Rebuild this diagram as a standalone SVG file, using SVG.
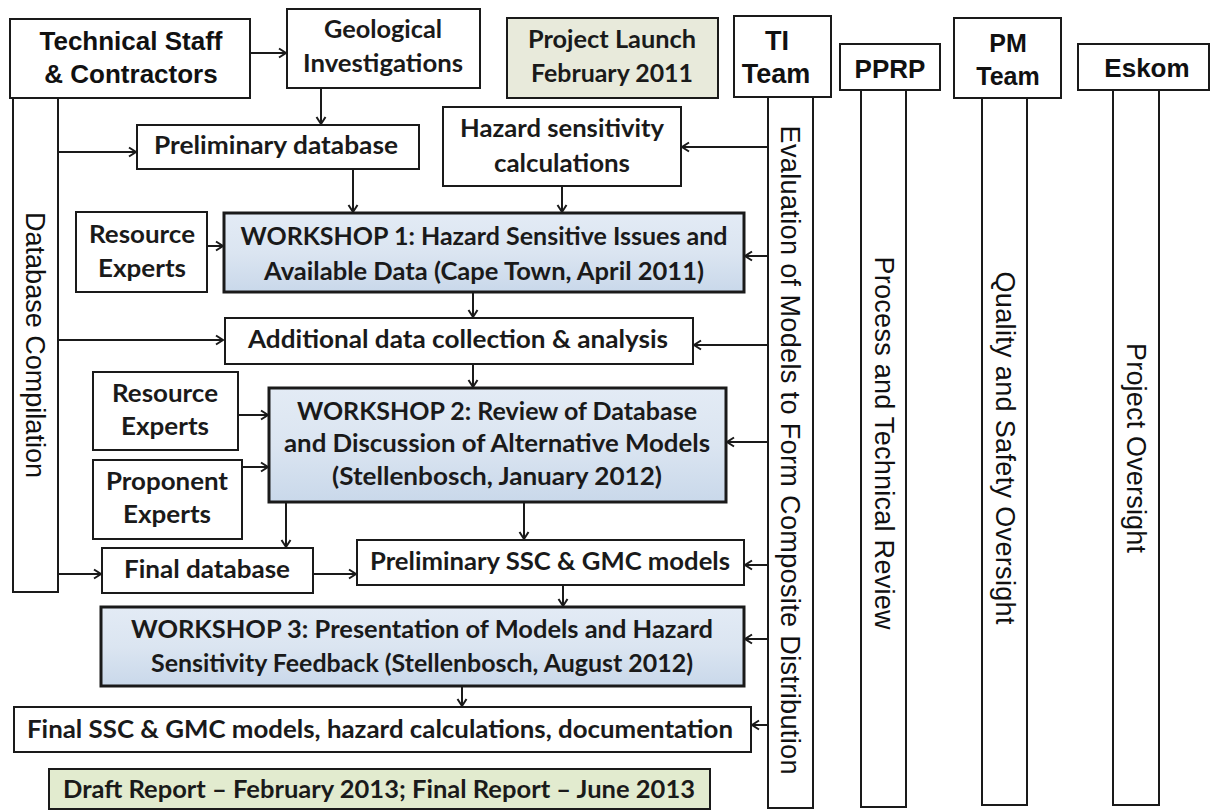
<svg xmlns="http://www.w3.org/2000/svg" width="1211" height="810" viewBox="0 0 1211 810">
<defs>
<linearGradient id="ws" x1="0" y1="0" x2="0" y2="1">
<stop offset="0" stop-color="#e3ebf5"/>
<stop offset="0.5" stop-color="#dbe5f1"/>
<stop offset="1" stop-color="#c9d8ea"/>
</linearGradient>
<marker id="ah" markerWidth="12" markerHeight="12" refX="9" refY="6" orient="auto" markerUnits="userSpaceOnUse">
<path d="M2,1.5 L9,6 L2,10.5" fill="none" stroke="#1a1a1a" stroke-width="2"/>
</marker>
</defs>
<style>
rect{fill:#ffffff;stroke:#1a1a1a;stroke-width:2}
rect.ws{fill:url(#ws);stroke-width:3}
rect.launch{fill:#e8eadb}
rect.report{fill:#e2ebcf}
.c{font-family:Lato,"Open Sans",sans-serif;font-weight:700;font-size:24.5px;fill:#1a1a1a;text-anchor:middle}
.a{font-family:"Liberation Sans",Arial,sans-serif;font-weight:700;font-size:26px;fill:#111;text-anchor:middle}
.v{font-family:"Liberation Sans",Arial,sans-serif;font-size:27px;fill:#111;text-anchor:middle}
#connectors line{stroke:#1a1a1a;stroke-width:2;fill:none}
</style>
<rect x="0" y="0" width="1211" height="810" style="fill:#fff;stroke:none"/>

<g id="tech-staff"><rect x="10" y="19" width="240" height="79"/>
<text class="a" x="131" y="50">Technical Staff</text><text class="a" x="131" y="83">&amp; Contractors</text></g>

<g id="database-compilation"><rect x="13" y="98" width="45" height="494"/>
<text class="v" transform="translate(35,345) rotate(90)" y="9" textLength="266" lengthAdjust="spacing">Database Compilation</text></g>

<g id="geological"><rect x="287" y="9" width="193" height="79"/>
<text class="c" x="383" y="38" textLength="118" lengthAdjust="spacingAndGlyphs">Geological</text><text class="c" x="383" y="72" textLength="160" lengthAdjust="spacingAndGlyphs">Investigations</text></g>

<g id="project-launch"><rect class="launch" x="507" y="18" width="211" height="80"/>
<text class="c" x="612" y="48" textLength="168" lengthAdjust="spacingAndGlyphs">Project Launch</text><text class="c" x="612" y="82" textLength="162" lengthAdjust="spacingAndGlyphs">February 2011</text></g>

<g id="ti-team"><rect x="734" y="16" width="97" height="81"/>
<text class="a" x="777" y="50" style="font-size:27px">TI</text><text class="a" x="776" y="83" style="font-size:27px">Team</text></g>

<g id="evaluation"><rect x="768" y="97" width="45" height="711"/>
<text class="v" transform="translate(790,450) rotate(90)" y="9" textLength="649" lengthAdjust="spacing">Evaluation of Models to Form Composite Distribution</text></g>

<g id="pprp"><rect x="840" y="44" width="100" height="46"/>
<text class="a" x="890" y="78">PPRP</text>
<rect x="861" y="90" width="45" height="717"/>
<text class="v" transform="translate(884,443) rotate(90)" y="9" textLength="373" lengthAdjust="spacing">Process and Technical Review</text></g>

<g id="pm-team"><rect x="954" y="18" width="107" height="80"/>
<text class="a" x="1008" y="52" style="font-size:25px">PM</text><text class="a" x="1008" y="85" style="font-size:25px">Team</text>
<rect x="982" y="98" width="45" height="707"/>
<text class="v" transform="translate(1005,448) rotate(90)" y="9" textLength="353" lengthAdjust="spacing">Quality and Safety Oversight</text></g>

<g id="eskom"><rect x="1078" y="44" width="131" height="46"/>
<text class="a" x="1147" y="77">Eskom</text>
<rect x="1113" y="90" width="46" height="715"/>
<text class="v" transform="translate(1136,448) rotate(90)" y="9" textLength="210" lengthAdjust="spacing">Project Oversight</text></g>

<g id="preliminary-database"><rect x="137" y="125" width="282" height="44"/>
<text class="c" x="276" y="154" textLength="244" lengthAdjust="spacingAndGlyphs">Preliminary database</text></g>

<g id="hazard-sensitivity"><rect x="443" y="107" width="238" height="79"/>
<text class="c" x="562" y="137" textLength="204" lengthAdjust="spacingAndGlyphs">Hazard sensitivity</text><text class="c" x="562" y="172" textLength="136" lengthAdjust="spacingAndGlyphs">calculations</text></g>

<g id="resource-experts-1"><rect x="76" y="212" width="131" height="80"/>
<text class="c" x="142" y="243" textLength="106" lengthAdjust="spacingAndGlyphs">Resource</text><text class="c" x="142" y="277" textLength="88" lengthAdjust="spacingAndGlyphs">Experts</text></g>

<g id="workshop-1"><rect class="ws" x="224" y="213" width="520" height="79"/>
<text class="c" x="484" y="245" textLength="487" lengthAdjust="spacingAndGlyphs">WORKSHOP 1: Hazard Sensitive Issues and</text>
<text class="c" x="484" y="280" textLength="440" lengthAdjust="spacingAndGlyphs">Available Data (Cape Town, April 2011)</text></g>

<g id="additional-data"><rect x="225" y="318" width="468" height="46"/>
<text class="c" x="458" y="348" textLength="420" lengthAdjust="spacingAndGlyphs">Additional data collection &amp; analysis</text></g>

<g id="resource-experts-2"><rect x="93" y="372" width="145" height="78"/>
<text class="c" x="165" y="402" textLength="106" lengthAdjust="spacingAndGlyphs">Resource</text><text class="c" x="165" y="435" textLength="88" lengthAdjust="spacingAndGlyphs">Experts</text></g>

<g id="proponent-experts"><rect x="93" y="460" width="149" height="79"/>
<text class="c" x="167" y="490" textLength="122" lengthAdjust="spacingAndGlyphs">Proponent</text><text class="c" x="167" y="523" textLength="88" lengthAdjust="spacingAndGlyphs">Experts</text></g>

<g id="workshop-2"><rect class="ws" x="269" y="388" width="457" height="114"/>
<text class="c" x="497" y="420" textLength="400" lengthAdjust="spacingAndGlyphs">WORKSHOP 2: Review of Database</text>
<text class="c" x="497" y="452" textLength="426" lengthAdjust="spacingAndGlyphs">and Discussion of Alternative Models</text>
<text class="c" x="497" y="485" textLength="330" lengthAdjust="spacingAndGlyphs">(Stellenbosch, January 2012)</text></g>

<g id="final-database"><rect x="102" y="548" width="211" height="45"/>
<text class="c" x="207" y="578" textLength="166" lengthAdjust="spacingAndGlyphs">Final database</text></g>

<g id="preliminary-ssc"><rect x="357" y="540" width="387" height="45"/>
<text class="c" x="550" y="570" textLength="360" lengthAdjust="spacingAndGlyphs">Preliminary SSC &amp; GMC models</text></g>

<g id="workshop-3"><rect class="ws" x="101" y="607" width="643" height="79"/>
<text class="c" x="422" y="638" textLength="582" lengthAdjust="spacingAndGlyphs">WORKSHOP 3: Presentation of Models and Hazard</text>
<text class="c" x="422" y="672" textLength="542" lengthAdjust="spacingAndGlyphs">Sensitivity Feedback (Stellenbosch, August 2012)</text></g>

<g id="final-ssc"><rect x="14" y="707" width="737" height="45"/>
<text class="c" x="380" y="738" textLength="706" lengthAdjust="spacingAndGlyphs">Final SSC &amp; GMC models, hazard calculations, documentation</text></g>

<g id="draft-report"><rect class="report" x="49" y="769" width="661" height="40"/>
<text class="c" x="379" y="798" textLength="632" lengthAdjust="spacingAndGlyphs">Draft Report – February 2013; Final Report – June 2013</text></g>

<g id="connectors">
<line x1="250" y1="53" x2="286" y2="53" marker-end="url(#ah)"/>
<line x1="321" y1="88" x2="321" y2="124" marker-end="url(#ah)"/>
<line x1="58" y1="152" x2="136" y2="152" marker-end="url(#ah)"/>
<line x1="58" y1="340" x2="223" y2="340" marker-end="url(#ah)"/>
<line x1="58" y1="574" x2="101" y2="574" marker-end="url(#ah)"/>
<line x1="353" y1="169" x2="353" y2="212" marker-end="url(#ah)"/>
<line x1="562" y1="186" x2="562" y2="212" marker-end="url(#ah)"/>
<line x1="768" y1="147" x2="682" y2="147" marker-end="url(#ah)"/>
<line x1="207" y1="246" x2="223" y2="246" marker-end="url(#ah)"/>
<line x1="768" y1="256" x2="745" y2="256" marker-end="url(#ah)"/>
<line x1="473" y1="292" x2="473" y2="317" marker-end="url(#ah)"/>
<line x1="768" y1="345" x2="694" y2="345" marker-end="url(#ah)"/>
<line x1="473" y1="364" x2="473" y2="387" marker-end="url(#ah)"/>
<line x1="238" y1="415" x2="268" y2="415" marker-end="url(#ah)"/>
<line x1="242" y1="467" x2="268" y2="467" marker-end="url(#ah)"/>
<line x1="768" y1="442" x2="727" y2="442" marker-end="url(#ah)"/>
<line x1="286" y1="502" x2="286" y2="547" marker-end="url(#ah)"/>
<line x1="524" y1="502" x2="524" y2="539" marker-end="url(#ah)"/>
<line x1="313" y1="574" x2="356" y2="574" marker-end="url(#ah)"/>
<line x1="768" y1="565" x2="745" y2="565" marker-end="url(#ah)"/>
<line x1="563" y1="585" x2="563" y2="606" marker-end="url(#ah)"/>
<line x1="768" y1="639" x2="745" y2="639" marker-end="url(#ah)"/>
<line x1="462" y1="686" x2="462" y2="706" marker-end="url(#ah)"/>
<line x1="768" y1="725" x2="752" y2="725" marker-end="url(#ah)"/>
</g>
</svg>
